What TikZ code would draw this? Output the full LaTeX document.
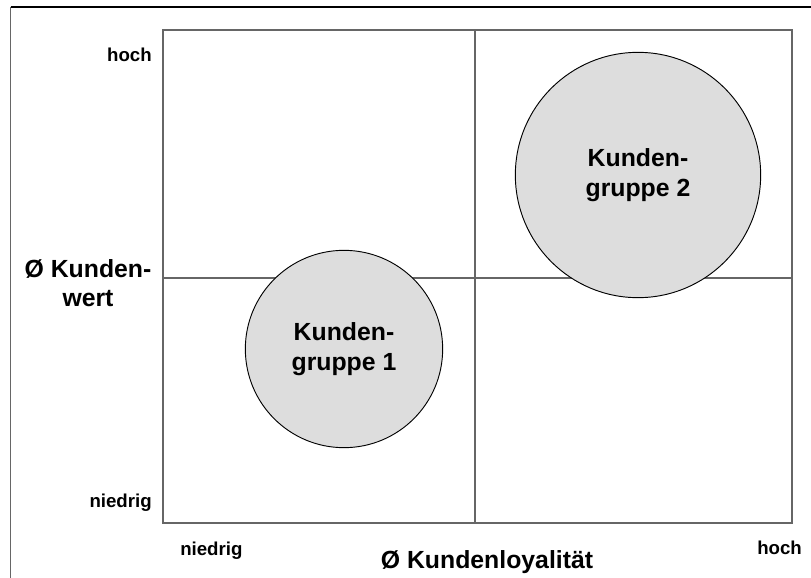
\documentclass[tikz,border=0pt]{standalone}
\usepackage{fontspec}
\setmainfont{Liberation Sans}
\begin{document}
\begin{tikzpicture}[x=0.75pt,y=-0.75pt,
  frameline/.style={line width=1.1pt,draw=black!60},
  gridline/.style={line width=0.8pt,draw=black!60},
  group/.style={circle,draw=black,line width=0.7pt,
    fill={rgb,255:red,221;green,221;blue,221},
    align=center,font=\bfseries\fontsize{18.6}{22.5}\selectfont,inner sep=0pt},
  small/.style={font=\bfseries\fontsize{14}{16}\selectfont,inner sep=0pt},
  big/.style={font=\bfseries\fontsize{18.6}{22}\selectfont,inner sep=0pt,align=center}]
\useasboundingbox (0,0) rectangle (811,578);
% outer frame (top and left edges)
\coordinate (ftl) at (10.5,7);
\coordinate (ftr) at (811,7);
\coordinate (fbl) at (10.5,578);
\draw[line width=1.2pt,black] (ftl) -- (ftr);
\draw[frameline] (ftl) -- (fbl);
% portfolio field with quadrant lines
\coordinate (bl) at (163,523);
\coordinate (tr) at (792,30);
\coordinate (midT) at (475,30);
\coordinate (midB) at (475,523);
\coordinate (midL) at (163,278);
\coordinate (midR) at (792,278);
\draw[gridline] (bl) rectangle (tr);
\draw[gridline] (midT) -- (midB);
\draw[gridline] (midL) -- (midR);
% customer groups (diameters given in pt: 1 px = 0.75 pt)
\node[group,minimum size=148pt] (g1) at (344,349) {Kunden-\\gruppe 1};
\node[group,minimum size=184pt] (g2) at (638,175) {Kunden-\\gruppe 2};
% axis labels
\node[small,anchor=base east] (yhi) at (152,61) {hoch};
\node[small,anchor=base east] (ylo) at (152,507) {niedrig};
\node[small,anchor=base west] (xlo) at (180,555) {niedrig};
\node[small,anchor=base west] (xhi) at (757,554) {hoch};
\node[big,anchor=base] (xlab) at (487,568) {Ø Kundenloyalität};
\node[big,anchor=north] (ylab) at (88,259) {Ø Kunden-\\wert};
\end{tikzpicture}
\end{document}
